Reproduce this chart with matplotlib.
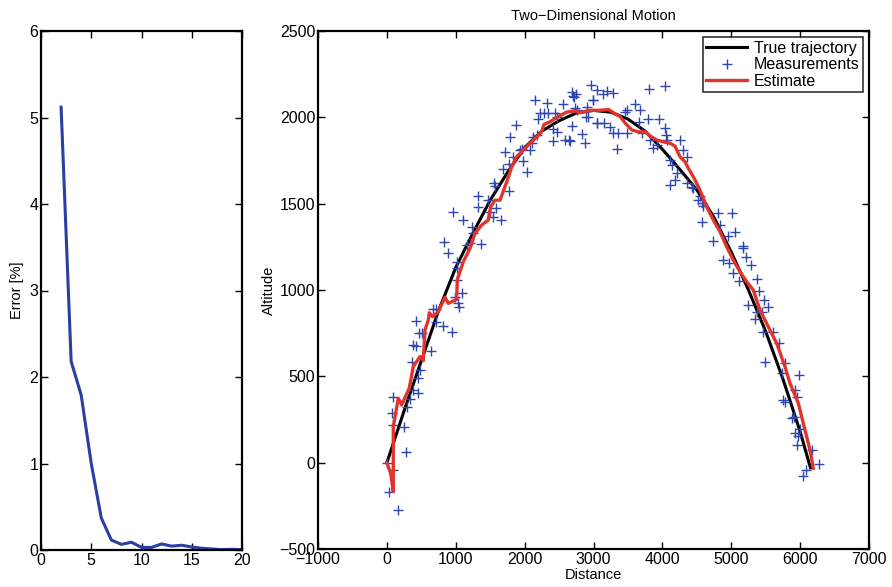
import numpy as np
import matplotlib
matplotlib.use("Agg")
import matplotlib.pyplot as plt

plt.rcParams['font.family'] = ['Liberation Sans', 'DejaVu Sans']
plt.rcParams['axes.unicode_minus'] = True

## Left panel: error vs iteration ##
iters = [2, 3, 4, 5, 6, 7, 8, 9, 10, 11, 12, 13, 14, 15, 16, 17, 18, 19, 20]
error_pct = [5.12, 2.18, 1.79, 1.0, 0.37, 0.115, 0.065, 0.09, 0.03, 0.03,
             0.07, 0.045, 0.055, 0.035, 0.02, 0.012, 0.005, 0.008, 0.004]

## Right panel: trajectory ##
true_x = [0, 250, 500, 750, 1000, 1250, 1500, 1750, 2000, 2250, 2500, 2750,
          3000, 3250, 3500, 3750, 4000, 4250, 4500, 4750, 5000, 5250, 5500,
          5750, 6000, 6150]
true_y = [0, 300, 590, 880, 1130, 1330, 1520, 1680, 1825, 1920, 1980, 2025,
          2040, 2030, 1990, 1920, 1815, 1700, 1580, 1420, 1220, 1000, 760,
          485, 180, -30]

est_x = [0, 55, 93, 93, 166, 214, 325, 383, 480, 529, 553, 601, 616, 665, 746,
         844, 891, 1013, 1022, 1061, 1110, 1207, 1279, 1376, 1472, 1507, 1570,
         1642, 1749, 1812, 1885, 2005, 2053, 2175, 2248, 2281, 2368, 2513, 2610,
         2731, 2804, 2925, 3099, 3220, 3293, 3390, 3462, 3559, 3656, 3753, 3825,
         3922, 4019, 4116, 4183, 4256, 4328, 4377, 4449, 4546, 4643, 4740, 4837,
         4934, 5030, 5127, 5224, 5320, 5417, 5538, 5660, 5780, 5853, 5974, 6046,
         6143, 6191]
est_y = [0, -61, -167, 208, 373, 334, 431, 556, 614, 591, 768, 826, 868, 845, 874,
         958, 923, 946, 1058, 1106, 1164, 1241, 1328, 1376, 1405, 1482, 1520,
         1520, 1636, 1713, 1772, 1820, 1839, 1887, 1916, 1959, 1974, 2010, 2030,
         2038, 2026, 2040, 2041, 2045, 2026, 2003, 1965, 1926, 1916, 1916, 1891,
         1868, 1858, 1849, 1833, 1772, 1743, 1705, 1656, 1579, 1482, 1405, 1337,
         1250, 1173, 1106, 1048, 1000, 884, 787, 691, 556, 460, 344, 228,
         74, -32]

meas_x = [0, 93, 35, 166, 277, 248, 93, 78, 93, 296, 335, 456, 383, 456, 481,
          369, 383, 423, 471, 505, 636, 423, 713, 810, 941, 674, 713, 1013, 1086,
          989, 1037, 1051,
          829, 892, 964, 1101, 1013, 1022, 1159, 1207, 1231, 1255, 1362, 1327,
          1327, 1472, 1497, 1584, 1536, 1652, 1570, 1555, 1777, 1681, 1777, 1826,
          1933, 1981, 2039, 1715, 1787, 1875, 1957, 2078, 2126, 2102, 2175, 2198,
          2150, 2329, 2281, 2223, 2344, 2441, 2465, 2561, 2416, 2416, 2465, 2586,
          2659, 2683, 2717, 2731, 2746, 2828, 2876, 2901, 2924, 2997, 3046,
          2683, 2707, 2649, 2756, 2891, 2959, 2988, 3055, 3142, 3200, 3287, 3055,
          3152, 3239, 3287, 3360, 3482, 3337, 3457, 3482, 3602, 3675, 3665, 3796,
          3810, 4038, 3955, 3700, 3820, 3868, 3918, 4038, 4053, 4063, 4256, 4295,
          4353, 4111, 4135, 4208, 4183, 4111, 4353, 4426, 4449, 4546, 4522, 4594,
          4571, 4571, 4812, 5006, 4740, 4837, 4957, 5054, 5175, 5175, 5214, 5282,
          4885, 4972, 5030, 5117, 5378, 5408, 5476, 5538, 5248, 5369, 5442, 5345,
          5466, 5611, 5698, 5490, 5780, 5988, 5732, 5926, 5950, 5756, 5780, 5877,
          5911, 5998, 5926, 5974, 5950, 6168, 6279, 6085, 6037]
meas_y = [0, -42, -168, -274, 64, 205, 218, 290, 382, 321, 367, 405, 421, 489, 537,
          585, 681, 676, 749, 753, 648, 820, 816, 791, 755, 888, 888, 1058, 984,
          961, 926, 903,
          1280, 1216, 1453, 1405, 1164, 1126, 1260, 1270, 1366, 1328, 1266, 1544,
          1479, 1521, 1453, 1473, 1424, 1405, 1602, 1621, 1575, 1699, 1729, 1768,
          1811, 1749, 1685, 1801, 1884, 1955, 1815, 1811, 1888, 1853, 1897, 1988,
          2100, 2084, 2023, 2026, 2023, 2026, 2000, 2077, 1930, 1864, 1916, 1868,
          1864, 1949, 2119, 2052, 2135, 1903, 1849, 2061, 2000, 2100, 1965,
          2148, 2123, 1868, 2042, 2003, 2187, 2100, 2158, 2135, 2154, 2142, 1969,
          1969, 1942, 1911, 1911, 1907, 1815, 2032, 2042, 2077, 2042, 1974, 1988,
          2162, 2181, 1988, 1907, 1868, 1820, 1839, 1936, 1897, 1868, 1868, 1811,
          1772, 1753, 1724, 1676, 1637, 1608, 1618, 1595, 1589, 1544, 1521, 1486,
          1502, 1395, 1448, 1444, 1285, 1376, 1313, 1337, 1255, 1241, 1193, 1145,
          1174, 1154, 1097, 1054, 1062, 996, 942, 903, 913, 874, 874, 830,
          758, 758, 691, 585, 579, 508, 518, 421, 382, 363, 353, 257,
          266, 193, 170, 155, 102, 74, -8, -42, -77]

fig = plt.figure(figsize=(8.92, 5.87), dpi=100)

ax1 = fig.add_axes([41/892, 37/587, 201/892, 519/587])
ax1.plot(iters, error_pct, color='#2b3fa3', lw=2.2)
ax1.set_xlim(0, 20)
ax1.set_ylim(0, 6)
ax1.set_xticks([0, 5, 10, 15, 20])
ax1.set_yticks([0, 1, 2, 3, 4, 5, 6])
ax1.set_ylabel('Error [%]', fontsize=10.5, labelpad=4)

ax2 = fig.add_axes([318/892, 38/587, 551/892, 518/587])
ax2.plot(true_x, true_y, color='black', lw=2.2, label='True trajectory')
ax2.plot(meas_x, meas_y, '+', color='#2f47ad', ms=7, mew=1.0, label='Measurements')
ax2.plot(est_x, est_y, color='#e3342b', lw=2.4, label='Estimate')
ax2.set_xlim(-1000, 7000)
ax2.set_ylim(-500, 2500)
ax2.set_xticks(range(-1000, 7001, 1000))
ax2.set_yticks(range(-500, 2501, 500))
ax2.set_title('Two\u2212Dimensional Motion', fontsize=10.5, pad=8)
ax2.set_xlabel('Distance', fontsize=10.5, labelpad=1)
ax2.set_ylabel('Altitude', fontsize=10.5, labelpad=2)
leg = ax2.legend(loc='upper right', fontsize=11.5, frameon=True, fancybox=False,
                 borderpad=0.2, labelspacing=0.1, handlelength=2.6,
                 handletextpad=0.4, borderaxespad=0.4)
leg.get_frame().set_edgecolor('black')
leg.get_frame().set_linewidth(1.2)

for ax in (ax1, ax2):
    ax.tick_params(direction='in', top=True, right=True, length=5, width=1,
                   labelsize=11.5, pad=2)
    for s in ax.spines.values():
        s.set_linewidth(1.6)

plt.savefig('out.png', dpi=100)
